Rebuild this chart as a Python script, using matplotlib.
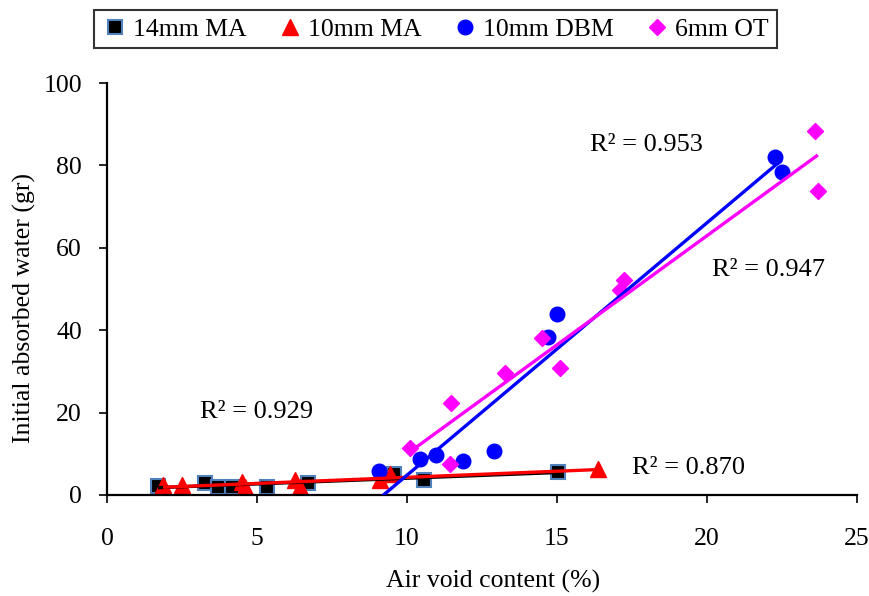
import numpy as np
import matplotlib
matplotlib.use("Agg")
import matplotlib.pyplot as plt
from matplotlib.lines import Line2D

plt.rcParams['font.family'] = ['Liberation Serif', 'DejaVu Serif']

# ---- data ----
ma14_x = [1.7, 3.27, 3.7, 4.17, 5.33, 6.7, 9.56, 10.56, 15.04]
ma14_y = [2.3, 2.9, 2.0, 2.0, 2.0, 2.9, 5.0, 3.6, 5.6]

ma10_x = [1.87, 1.9, 2.5, 4.5, 4.6, 6.28, 6.45, 9.1, 9.43, 16.37]
ma10_y = [2.4, 1.5, 2.4, 3.2, 2.0, 3.6, 2.0, 3.6, 5.0, 6.2]

dbm_x = [9.06, 10.43, 10.96, 11.86, 12.9, 14.7, 15.0, 22.26, 22.5]
dbm_y = [5.9, 8.7, 9.7, 8.3, 10.7, 38.3, 43.9, 82.1, 78.5]

ot_x = [10.1, 11.43, 11.46, 13.27, 14.5, 15.1, 17.1, 17.25, 23.6, 23.7]
ot_y = [11.5, 7.5, 22.4, 29.6, 38.1, 30.8, 49.8, 52.2, 88.4, 73.8]

labels = ['14mm MA', '10mm MA', '10mm DBM', '6mm OT']
r2_texts = ['R² = 0.929', 'R² = 0.870', 'R² = 0.953', 'R² = 0.947']

FS = 18.5

fig = plt.figure(figsize=(8.69, 5.96), dpi=100)
ax = fig.add_axes([0.1231, 0.1695, 0.8629, 0.6912])

series = [
    (ma14_x, ma14_y, dict(marker='s', color='black', mec='#4F81BD', ms=9.5, mew=1.5), 'black'),
    (ma10_x, ma10_y, dict(marker='^', color='red', mec='red', ms=11, mew=1), 'red'),
    (dbm_x, dbm_y, dict(marker='o', color='blue', mec='blue', ms=10.5, mew=1), 'blue'),
    (ot_x, ot_y, dict(marker='D', color='magenta', mec='magenta', ms=8.5, mew=1), 'magenta'),
]

handles = []
for (x, y, mk, lc), lab in zip(series, labels):
    ax.plot(x, y, linestyle='none', zorder=2, **mk)
    h = Line2D([], [], linestyle='none', **{**mk, 'ms': mk['ms'] * 1.0})
    handles.append(h)

for (x, y, mk, lc) in series:
    xa = np.array(x)
    p = np.polyfit(xa, np.array(y), 1)
    xs = np.array([xa.min(), xa.max()])
    ax.plot(xs, np.polyval(p, xs), color=lc, lw=2.4, zorder=3, solid_capstyle='butt')

ax.set_xlim(0, 25)
ax.set_ylim(0, 100)
ax.set_xticks([0, 5, 10, 15, 20, 25])
ax.set_yticks([0, 20, 40, 60, 80, 100])
for s in ['top', 'right']:
    ax.spines[s].set_visible(False)
for s in ['left', 'bottom']:
    ax.spines[s].set_linewidth(1.6)
ax.tick_params(direction='out', length=6, width=1.2, labelsize=FS)
ax.tick_params(axis='x', pad=18)
ax.tick_params(axis='y', pad=12)
ax.set_xlabel('Air void content (%)', fontsize=FS, labelpad=14, x=0.515)
ax.set_ylabel('Initial absorbed water (gr)', fontsize=FS, labelpad=5, y=0.455)

ax.text(5.0, 20.1, r2_texts[0], fontsize=FS + 0.5, ha='center', va='center')
ax.text(19.4, 6.5, r2_texts[1], fontsize=FS + 0.5, ha='center', va='center')
ax.text(18.0, 85.0, r2_texts[2], fontsize=FS + 0.5, ha='center', va='center')
ax.text(22.05, 54.6, r2_texts[3], fontsize=FS + 0.5, ha='center', va='center')

leg = fig.legend(handles, labels, loc='center', bbox_to_anchor=(0.501, 0.951),
                 ncol=4, fontsize=FS, frameon=True, fancybox=False,
                 handletextpad=0.2, columnspacing=1.2, handlelength=1.0,
                 borderpad=0.3)
leg.get_frame().set_edgecolor('black')
leg.get_frame().set_linewidth(1.5)

fig.savefig('out.png', dpi=100)
